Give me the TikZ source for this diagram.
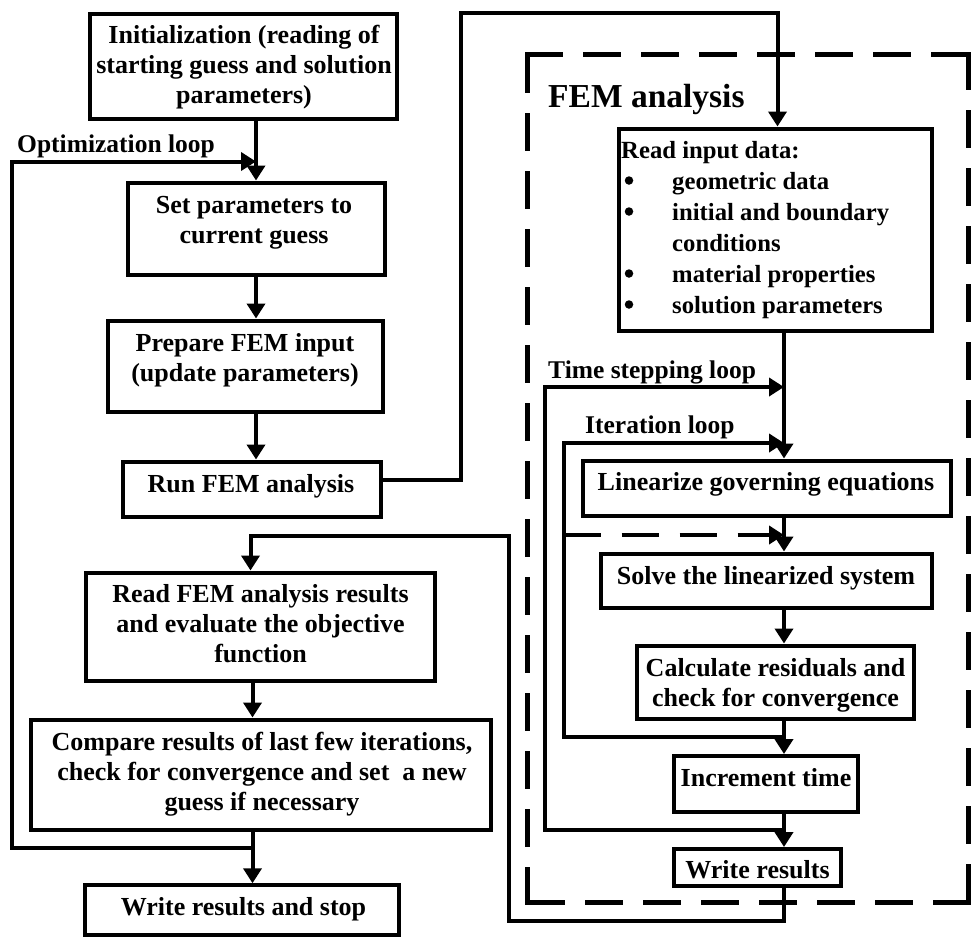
\documentclass[tikz,border=0pt]{standalone}
\usepackage{fontspec}
\setmainfont{Liberation Serif}
\usetikzlibrary{arrows.meta}
\newcommand{\ml}[1]{\begin{tabular}[t]{@{}c@{}}#1\end{tabular}}
\newcommand{\ind}{\hspace*{51pt}}
\begin{document}
\begin{tikzpicture}[x=1pt,y=-1pt,
  box/.style={draw, line width=4pt, inner sep=0pt},
  txt/.style={inner sep=0pt, anchor=base, font=\fontsize{26}{30}\selectfont\bfseries},
  lbl/.style={inner sep=0pt, anchor=base west, font=\fontsize{25.5}{29.8}\selectfont\bfseries},
  arr/.style={line width=4pt, -{Triangle[width=18pt,length=15pt]}},
  femside/.style={line width=5pt, line cap=rect, dash pattern=on 33pt off 25pt},
  bulletdot/.style={circle, fill, inner sep=0pt, minimum size=8.5pt},
]
\useasboundingbox (0,0) rectangle (973,940);

% dashed FEM frame (each side starts at a corner, so corners are solid)
\node[inner sep=0pt, minimum width=440.5pt, minimum height=848pt] (fem) at (748.25,478.5) {};
\draw[femside] (fem.north west) -- (fem.north east);
\draw[femside] (fem.north east) -- (fem.south east);
\draw[femside] (fem.south east) -- (fem.south west);
\draw[femside] (fem.south west) -- (fem.north west);

% boxes
\node[box, minimum width=307pt, minimum height=105pt] (init) at (243.5,66.5) {};
\node[box, minimum width=257pt, minimum height=92pt] (set) at (256,228.5) {};
\node[box, minimum width=275pt, minimum height=91pt] (prep) at (245,366) {};
\node[box, minimum width=257.5pt, minimum height=55pt] (run) at (251.75,489) {};
\node[box, minimum width=349pt, minimum height=108pt] (readfem) at (260.5,626.5) {};
\node[box, minimum width=460pt, minimum height=110pt] (compare) at (260.5,774.5) {};
\node[box, minimum width=313.5pt, minimum height=49.5pt] (writestop) at (242,910) {};
\node[box, minimum width=313.5pt, minimum height=202pt] (readin) at (775.25,229.5) {};
\node[box, minimum width=368pt, minimum height=55pt] (lin) at (766.5,488) {};
\node[box, minimum width=331pt, minimum height=54.5pt] (solve) at (766,580.75) {};
\node[box, minimum width=277pt, minimum height=73.5pt] (calc) at (775.5,682.25) {};
\node[box, minimum width=184pt, minimum height=55.5pt] (inc) at (766,783.75) {};
\node[box, minimum width=166.5pt, minimum height=36.5pt] (writeres) at (757.25,867.25) {};

% texts
\node[txt] (init-t) at (244,43) {\ml{Initialization (reading of\\starting guess and solution\\parameters)}};
\node[txt] (set-t) at (254,213) {\ml{Set parameters to\\current guess}};
\node[txt] (prep-t) at (245,351.5) {\ml{Prepare FEM input\\(update parameters)}};
\node[txt] (run-t) at (251,492) {Run FEM analysis};
\node[txt] (readfem-t) at (260.5,602) {\ml{Read FEM analysis results\\and evaluate the objective\\function}};
\node[txt] (compare-t) at (262,750) {\ml{Compare results of last few iterations,\\check for convergence and set\ \ a new\\guess if necessary}};
\node[txt] (writestop-t) at (243.5,915) {Write results and stop};
\node[lbl, font=\fontsize{33.5}{38}\selectfont\bfseries] (fem-t) at (548,107) {FEM analysis};
\node[lbl, font=\fontsize{24.7}{31}\selectfont\bfseries] (readin-t) at (621,158) {\begin{tabular}[t]{@{}l@{}}Read input data:\\
\ind geometric data\\
\ind initial and boundary\\
\ind conditions\\
\ind material properties\\
\ind solution parameters\end{tabular}};
\node[bulletdot] (b1) at (629,180.5) {};
\node[bulletdot] (b2) at (629,211.5) {};
\node[bulletdot] (b3) at (629,273.5) {};
\node[bulletdot] (b4) at (629,304.5) {};
\node[lbl] (opt-t) at (17,152) {Optimization loop};
\node[lbl] (time-t) at (548,378) {Time stepping loop};
\node[lbl] (iter-t) at (585,433) {Iteration loop};
\node[txt] (lin-t) at (766,490.5) {Linearize governing equations};
\node[txt] (solve-t) at (766,584) {Solve the linearized system};
\node[txt] (calc-t) at (775.5,676) {\ml{Calculate residuals and\\check for convergence}};
\node[txt] (inc-t) at (766,786) {Increment time};
\node[txt] (writeres-t) at (757.5,878) {Write results};

% helper coordinates
\coordinate (fx) at (784,0);
\coordinate (lx) at (252.5,0);
\coordinate (r1) at (461,480);
\coordinate (r2) at (461,13);
\coordinate (r3) at (777.5,13);
\coordinate (tl) at (544.5,387);
\coordinate (tb) at (544.5,830);
\coordinate (il) at (563.5,443);
\coordinate (ib) at (563.5,737);
\coordinate (dl) at (563.5,535);
\coordinate (w1) at (784,920.5);
\coordinate (w2) at (509,920.5);
\coordinate (w3) at (509,536);
\coordinate (w4) at (250.5,536);
\coordinate (o1) at (252.5,847.5);
\coordinate (o2) at (12,847.5);
\coordinate (o3) at (12,161.5);

% optimization column
\draw[arr] (init.south -| set.north) -- (set.north);
\draw[arr] (set.south) -- (set.south |- prep.north);
\draw[arr] (set.south |- prep.south) -- (set.south |- run.north);
\draw[arr] (run.east |- r1) -- (r1) -- (r2) -- (r3) -- (r3 |- readin.north);
\draw[arr] (readfem.south -| lx) -- (compare.north -| lx);
\draw[arr] (compare.south -| lx) -- (writestop.north -| lx);
\draw[arr] (o1) -- (o2) -- (o3) -- (set.north |- o3);

% FEM column
\draw[arr] (readin.south -| fx) -- (lin.north -| fx);
\draw[arr] (lin.south -| fx) -- (solve.north -| fx);
\draw[arr] (solve.south -| fx) -- (calc.north -| fx);
\draw[arr] (calc.south -| fx) -- (inc.north -| fx);
\draw[arr] (inc.south -| fx) -- (writeres.north -| fx);
\draw[arr] (fx |- tb) -- (tb) -- (tl) -- (fx |- tl);
\draw[arr] (fx |- ib) -- (ib) -- (il) -- (fx |- il);
\draw[arr, dash pattern=on 37pt off 21pt] (dl) -- (fx |- dl);
\draw[arr] (writeres.south -| fx) -- (fx |- w1) -- (w2) -- (w3) -- (w4) -- (w4 |- readfem.north);
\end{tikzpicture}
\end{document}
